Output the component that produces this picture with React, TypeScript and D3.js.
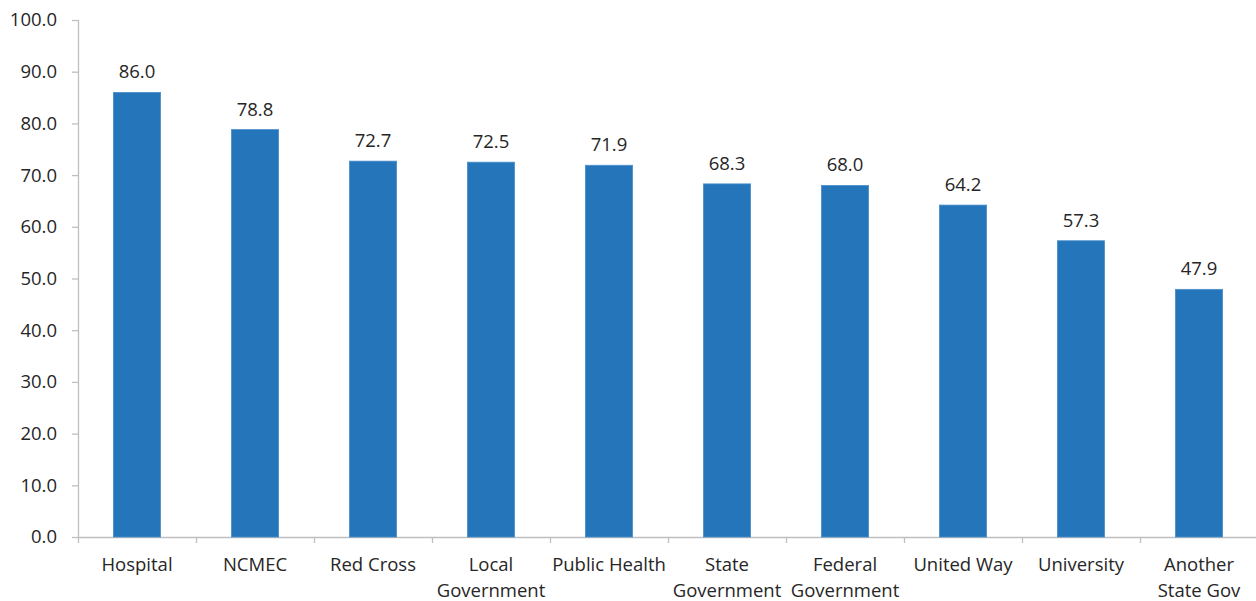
import React from "react";
import * as d3 from "d3";

const categories = [
  "Hospital",
  "NCMEC",
  "Red Cross",
  "Local\nGovernment",
  "Public Health",
  "State\nGovernment",
  "Federal\nGovernment",
  "United Way",
  "University",
  "Another\nState Gov",
];
const values = [86.0, 78.8, 72.7, 72.5, 71.9, 68.3, 68.0, 64.2, 57.3, 47.9];
const yTicks = [0, 10, 20, 30, 40, 50, 60, 70, 80, 90, 100];

const W = 1256;
const H = 601;
const left = 78;
const right = 1258;
const top = 20;
const bottom = 537;
const FONT = "'Open Sans', 'Noto Sans', sans-serif";
const TEXT = "#262626";
const FS = 18.5;

export default function App() {
  const x = d3
    .scaleBand<string>()
    .domain(categories)
    .range([left, right])
    .paddingInner(0.6)
    .paddingOuter(0.3);
  const band = (right - left) / categories.length;
  const y = d3.scaleLinear().domain([0, 100]).range([bottom, top]);
  const fmt = d3.format(".1f");

  return (
    <svg
      width={W}
      height={H}
      style={{ position: "absolute", left: 0, top: 0, display: "block" }}
      fontFamily={FONT}
    >
      <rect width={W} height={H} fill="#fff" />
      {/* y axis */}
      <line x1={left + 0.5} x2={left + 0.5} y1={y(100)} y2={bottom} stroke="#BFBFBF" strokeWidth={1.3} />
      {yTicks.map((t) => (
        <g key={t}>
          <line x1={left - 6} x2={left} y1={y(t) + 0.5} y2={y(t) + 0.5} stroke="#BFBFBF" strokeWidth={1.3} />
          <text x={57} y={y(t)} dy="0.35em" textAnchor="end" fontSize={FS} fill={TEXT}>
            {fmt(t)}
          </text>
        </g>
      ))}
      {/* x axis */}
      <line x1={left} x2={W} y1={bottom + 0.5} y2={bottom + 0.5} stroke="#BFBFBF" strokeWidth={1.3} />
      {categories.map((c, i) => (
        <line
          key={"t" + i}
          x1={left + i * band + 0.5}
          x2={left + i * band + 0.5}
          y1={bottom}
          y2={bottom + 6}
          stroke="#BFBFBF"
          strokeWidth={1.3}
        />
      ))}
      {/* bars */}
      {categories.map((c, i) => {
        const bx = x(c)!;
        const bw = x.bandwidth();
        return (
          <g key={c}>
            <rect x={bx} y={y(values[i])} width={bw} height={bottom - y(values[i])} fill="#2475B9" stroke="#4A8FCC" strokeWidth={0.8} />
            <text x={bx + bw / 2} y={y(values[i]) - 14} textAnchor="middle" fontSize={FS} fill={TEXT}>
              {fmt(values[i])}
            </text>
            {c.split("\n").map((line, j) => (
              <text key={j} x={bx + bw / 2} y={571 + j * 25.5} textAnchor="middle" fontSize={FS} fill={TEXT}>
                {line}
              </text>
            ))}
          </g>
        );
      })}
    </svg>
  );
}
